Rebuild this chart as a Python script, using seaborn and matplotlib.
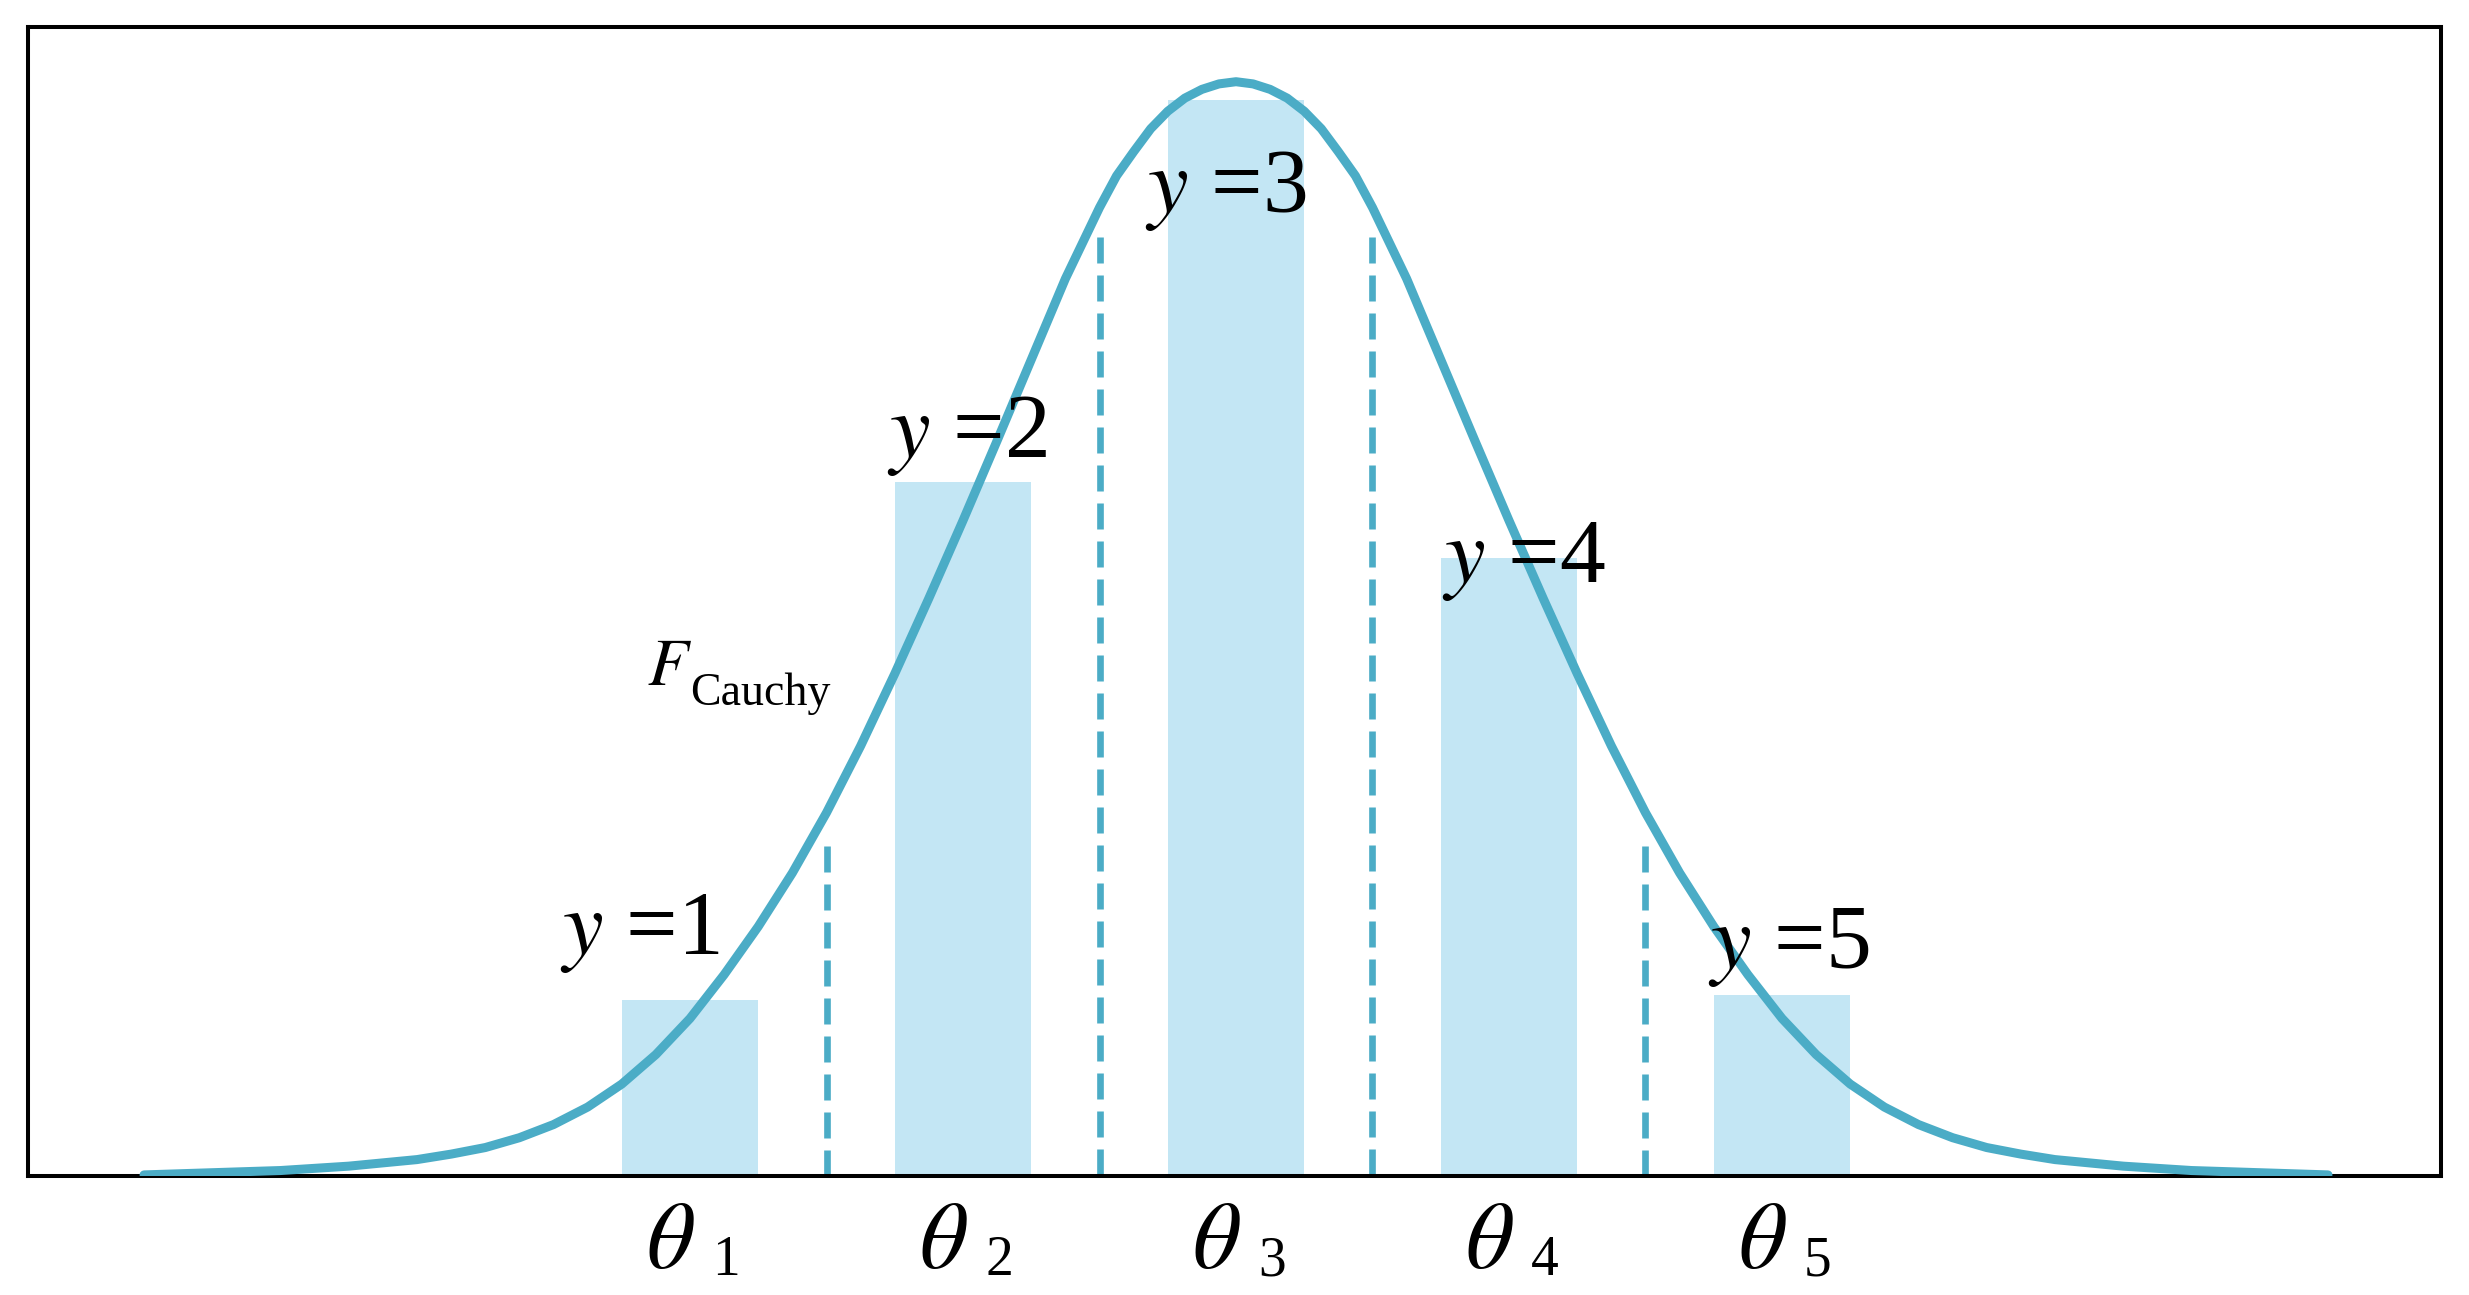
import matplotlib
matplotlib.use("Agg")
import matplotlib.pyplot as plt
import seaborn as sns

# ---------------- data ----------------
categories = [r"$\theta$", r"$\theta$", r"$\theta$", r"$\theta$", r"$\theta$"]
category_index = ["1", "2", "3", "4", "5"]
bar_positions = [1, 2, 3, 4, 5]
bar_heights = [0.161, 0.634, 0.983, 0.565, 0.165]

threshold_x = [1.5, 2.5, 3.5, 4.5]
threshold_top = [0.302, 0.858, 0.858, 0.302]

# density curve (x, height)
curve_x = [-1.0, -0.875, -0.75, -0.625, -0.5, -0.375, -0.25, -0.125,
           0.0, 0.125, 0.25, 0.375, 0.5, 0.625, 0.75, 0.875,
           1.0, 1.125, 1.25, 1.375, 1.5, 1.625, 1.75, 1.875,
           2.0, 2.125, 2.25, 2.375, 2.5, 2.5625, 2.625, 2.6875,
           2.75, 2.8125, 2.875, 2.9375,
           3.0,
           3.0625, 3.125, 3.1875, 3.25, 3.3125, 3.375, 3.4375,
           3.5, 3.625, 3.75, 3.875, 4.0, 4.125, 4.25, 4.375,
           4.5, 4.625, 4.75, 4.875, 5.0, 5.125, 5.25, 5.375,
           5.5, 5.625, 5.75, 5.875, 6.0, 6.125, 6.25, 6.375,
           6.5, 6.625, 6.75, 6.875, 7.0]
curve_y = [0.001, 0.002, 0.003, 0.004, 0.005, 0.007, 0.009, 0.012,
           0.015, 0.020, 0.026, 0.035, 0.047, 0.063, 0.084, 0.111,
           0.144, 0.184, 0.228, 0.277, 0.332, 0.393, 0.459, 0.528,
           0.599, 0.672, 0.746, 0.820, 0.885, 0.914, 0.936, 0.957,
           0.973, 0.985, 0.993, 0.998,
           1.000,
           0.998, 0.993, 0.985, 0.973, 0.957, 0.936, 0.914,
           0.885, 0.820, 0.746, 0.672, 0.599, 0.528, 0.459, 0.393,
           0.332, 0.277, 0.228, 0.184, 0.144, 0.111, 0.084, 0.063,
           0.047, 0.035, 0.026, 0.020, 0.015, 0.012, 0.009, 0.007,
           0.005, 0.004, 0.003, 0.002, 0.001]

class_labels = ["$y$ =1", "$y$ =2", "$y$ =3", "$y$ =4", "$y$ =5"]
class_label_x = [0.524, 1.722, 2.667, 3.755, 4.729]
class_label_y = [0.203, 0.657, 0.881, 0.543, 0.190]

# ---------------- style ----------------
sns.set_style("white")
plt.rcParams["font.family"] = ["Liberation Serif", "DejaVu Serif"]
plt.rcParams["mathtext.fontset"] = "stix"
plt.rcParams["text.color"] = "black"

curve_color = "#4BACC6"
bar_color = "#C3E6F4"

W, H = 2469, 1295
fig = plt.figure(figsize=(W / 100, H / 100), dpi=100)
ax = fig.add_axes([28 / W, (H - 1176) / H, (2441 - 28) / W, (1176 - 27) / H])

sns.barplot(x=bar_positions, y=bar_heights, native_scale=True, width=0.5,
            color=bar_color, saturation=1, errorbar=None, linewidth=0, ax=ax)

for xv, top in zip(threshold_x, threshold_top):
    ax.plot([xv, xv], [top, 0], color=curve_color, lw=4.8,
            dashes=(3.9, 1.8), solid_capstyle="butt", dash_capstyle="butt", zorder=2)

sns.lineplot(x=curve_x, y=curve_y, color=curve_color, lw=6.5,
             estimator=None, sort=False, ax=ax, zorder=3)
for ln in ax.get_lines()[-1:]:
    ln.set_linewidth(6.5)
    ln.set_solid_joinstyle("round")

for lbl, lx, ly in zip(class_labels, class_label_x, class_label_y):
    ax.text(lx, ly, lbl, fontsize=66, ha="left", va="baseline", zorder=5, color="black")

for pos, th, idx in zip(bar_positions, categories, category_index):
    ax.text(pos - 0.071, -0.084, th, fontsize=68, ha="center", va="baseline",
            clip_on=False, color="black")
    ax.text(pos + 0.081, -0.0905, idx, fontsize=40, ha="left", va="baseline",
            clip_on=False, color="black")

ax.text(0.842, 0.449, "$F$", fontsize=48, ha="left", va="baseline", color="black")
ax.text(1.0, 0.4305, "Cauchy", fontsize=33, ha="left", va="baseline", color="black")

ax.set_xlim(-1.425, 7.414)
ax.set_ylim(0, 1.050)
ax.set_xticks([])
ax.set_yticks([])
ax.set_xlabel("")
ax.set_ylabel("")
for s in ax.spines.values():
    s.set_visible(True)
    s.set_color("black")
    s.set_linewidth(2.9)

fig.savefig("out.png", dpi=100)
